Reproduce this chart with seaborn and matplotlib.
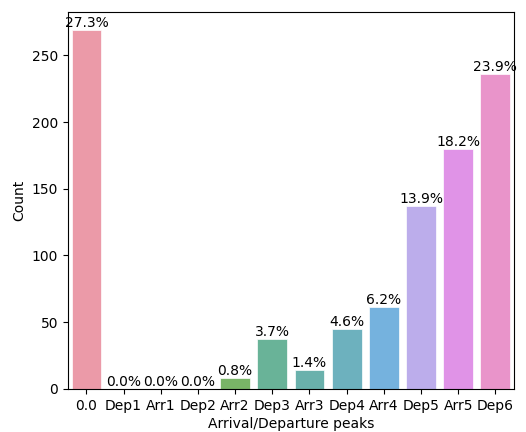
import numpy as np
import pandas as pd
import seaborn as sns
import matplotlib

matplotlib.use("Agg")
import matplotlib.pyplot as plt

# --- data
peaks = ["0.0", "Dep1", "Arr1", "Dep2", "Arr2", "Dep3",
         "Arr3", "Dep4", "Arr4", "Dep5", "Arr5", "Dep6"]
counts = [269, 0, 0, 0, 8, 37, 14, 45, 61, 137, 180, 236]

df = pd.DataFrame({"peak": peaks, "count": counts})
total = df["count"].sum()

plt.rcParams["font.size"] = 10

# --- plotting
fig, ax = plt.subplots(figsize=(5.26, 4.32), dpi=100)
g = sns.barplot(
    data=df,
    x="peak",
    y="count",
    hue="peak",
    palette="husl",
    saturation=0.75,
    legend=False,
    ax=ax,
    alpha=0.8,
    edgecolor="white",
    linewidth=0.6,
)
for p in g.patches:
    h = p.get_height()
    g.annotate(
        "{:.1f}%".format(100 * h / total),
        (p.get_x() + p.get_width() / 2, h),
        ha="center",
        va="bottom",
        fontsize=10,
    )
ax.set_xlabel("Arrival/Departure peaks", labelpad=3)
ax.set_ylabel("Count")
fig.subplots_adjust(left=0.129, right=0.977, top=0.972, bottom=0.1)
plt.savefig("out.png")
